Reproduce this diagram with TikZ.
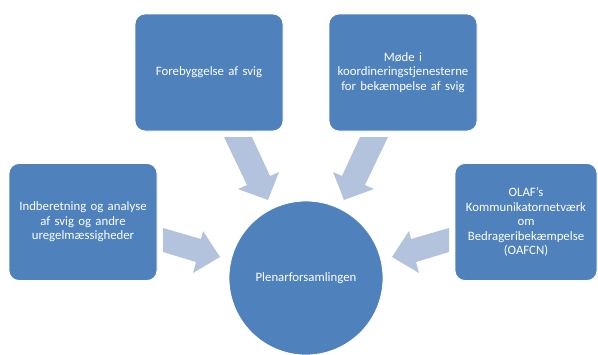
\documentclass[tikz,border=0pt]{standalone}
\usepackage{fontspec}
\setmainfont{Carlito}
\definecolor{boxblue}{HTML}{4F81BD}
\definecolor{arrowblue}{HTML}{B3C3DE}
\begin{document}
\begin{tikzpicture}[x=1pt,y=-1pt,
  box/.style={rectangle, rounded corners=10pt, fill=boxblue, draw=white, line width=0.8pt,
    text=white, align=center, font=\fontsize{12.8}{14.4}\selectfont, inner sep=2pt,
    minimum width=148pt, minimum height=117pt, text width=144pt},
  hub/.style={circle, fill=boxblue, draw=white, line width=0.8pt, text=white,
    font=\fontsize{12.8}{14.4}\selectfont, minimum size=154pt, inner sep=0pt},
  blockarrow/.style={fill=arrowblue, draw=none}]
\useasboundingbox (0,0) rectangle (598,354);
% block arrows
\fill[blockarrow] (224,137) -- (247,185) -- (238,189) -- (268,200) -- (279,172) -- (270,176) -- (252,137) -- cycle;
\fill[blockarrow] (388,137) -- (365,185) -- (374,189) -- (344,200) -- (333,172) -- (342,176) -- (360,137) -- cycle;
\fill[blockarrow] (163,228) -- (201,239) -- (203,231) -- (220,257) -- (193,273) -- (196,262) -- (163,252) -- cycle;
\fill[blockarrow] (449,228) -- (411,239) -- (409,231) -- (392,257) -- (419,273) -- (416,262) -- (449,252) -- cycle;
% nodes
\node[box] (prev) at (209,72.5) {Forebyggelse af svig};
\node[box] (afcos) at (403,72.5) {Møde i\\koordineringstjenesterne\\for bekæmpelse af svig};
\node[box] (report) at (83,222) {Indberetning og analyse\\af svig og andre\\uregelmæssigheder};
\node[box, minimum width=142pt, text width=138pt] (oafcn) at (526,222) {OLAF's\\Kommunikatornetværk\\om\\Bedrageribekæmpelse\\(OAFCN)};
\node[hub] (plen) at (306,278) {Plenarforsamlingen};
\end{tikzpicture}
\end{document}
